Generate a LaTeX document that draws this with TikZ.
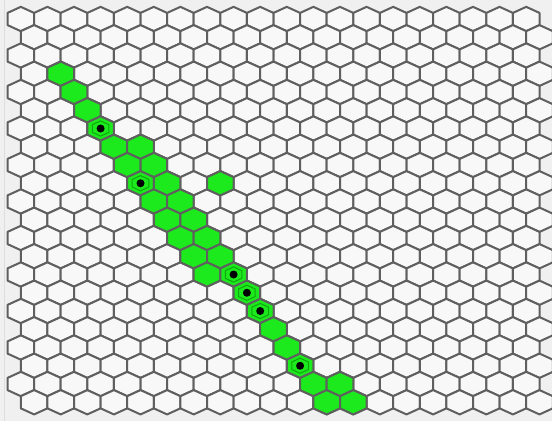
\documentclass[tikz,border=0pt]{standalone}
\definecolor{bg}{RGB}{240,240,240}
\definecolor{cellfill}{RGB}{248,248,248}
\definecolor{gridline}{RGB}{95,95,95}
\definecolor{hit}{RGB}{28,234,28}
\definecolor{ring}{RGB}{15,165,15}
\definecolor{edgeline}{RGB}{222,222,222}
\tikzset{
  hex/.pic={\path[pic actions] (0,-12.17) -- (13.3,-6.085) -- (13.3,6.085) -- (0,12.17) -- (-13.3,6.085) -- (-13.3,-6.085) -- cycle;},
  innerhex/.pic={\path[pic actions] (0,-7.6) -- (8.3,-3.8) -- (8.3,3.8) -- (0,7.6) -- (-8.3,3.8) -- (-8.3,-3.8) -- cycle;},
  hexcell/.style={fill=cellfill, draw=gridline, line width=2pt, line join=round},
  greencell/.style={fill=hit, draw=gridline, line width=2pt, line join=round},
  ringcell/.style={fill=hit, draw=ring, line width=1pt, line join=round},
  dotmark/.style={fill=black}
}
\begin{document}
\begin{tikzpicture}[x=1pt,y=-1pt]
\useasboundingbox (0,0) rectangle (552,421);
\clip (0,0) rectangle (552,421);
\fill[bg] (0,0) rectangle (552,421);
\draw[edgeline, line width=1pt] (4,0) -- (4,421);
% grid of empty cells
\foreach \r in {0,...,21}{
  \foreach \k in {0,...,19}{
    \pgfmathsetmacro{\cx}{20.8+26.6*\k+13.3*mod(\r,2)}
    \pgfmathsetmacro{\cy}{19+18.25*\r}
    \pic[hexcell] at (\cx,\cy) {hex};
  }
}
% green cells
\foreach \r/\k in {3/1,4/2,5/2,6/3,7/3,7/4,8/4,8/5,9/4,9/5,9/7,10/5,10/6,11/5,11/6,12/6,12/7,13/6,13/7,14/7,14/8,15/8,16/9,17/9,18/10,19/10,20/11,20/12,21/11,21/12}{
    \pgfmathsetmacro{\cx}{20.8+26.6*\k+13.3*mod(\r,2)}
    \pgfmathsetmacro{\cy}{19+18.25*\r}
    \pic[greencell] at (\cx,\cy) {hex};
}
% marked cells
\foreach \r/\k in {6/3,9/4,14/8,15/8,16/9,19/10}{
    \pgfmathsetmacro{\cx}{20.8+26.6*\k+13.3*mod(\r,2)}
    \pgfmathsetmacro{\cy}{19+18.25*\r}
    \pic[ringcell] at (\cx,\cy) {innerhex};
    \fill[dotmark] (\cx,\cy) circle[radius=4];
}
\end{tikzpicture}
\end{document}
